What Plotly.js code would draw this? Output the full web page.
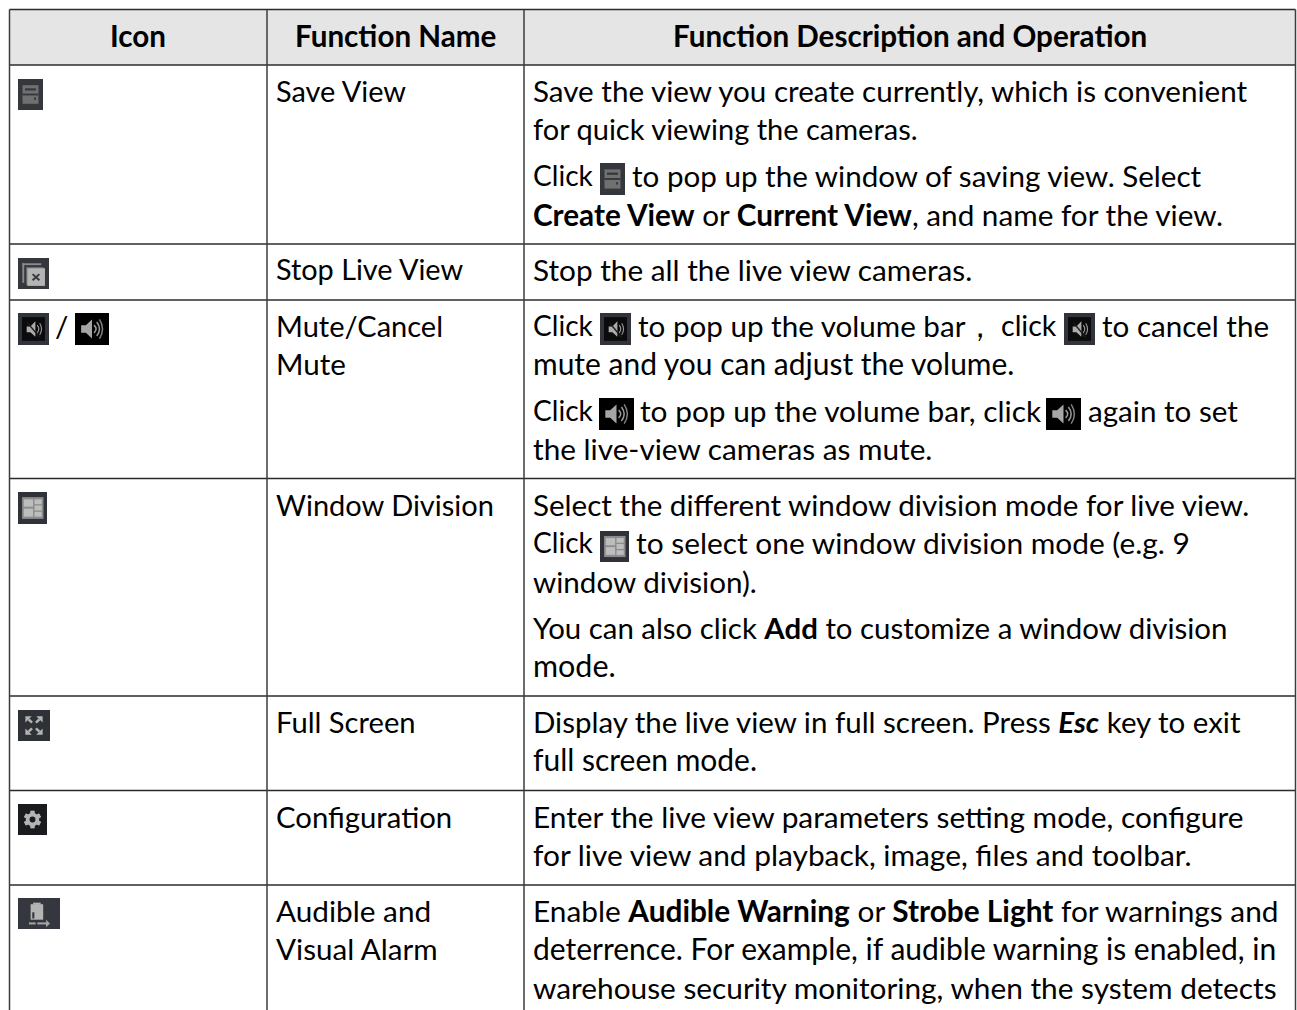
<!DOCTYPE html>
<html>
<head>
<meta charset="utf-8">
<script src="https://cdn.plot.ly/plotly-3.0.1.min.js"></script>
<style>html,body{margin:0;padding:0;background:#fff;overflow:hidden}</style>
</head>
<body>
<div id="chart" style="width:1297px;height:1010px"></div>
<script>
// ---- table content ----
const headers = ["Icon", "Function Name", "Function Description and Operation"];
const functionNames = ["Save View", "Stop Live View", "Mute/Cancel", "Mute", "Window Division", "Full Screen", "Configuration", "Audible and", "Visual Alarm"];
const descriptionLines = [
  "Save the view you create currently, which is convenient",
  "for quick viewing the cameras.",
  "Click",
  "to pop up the window of saving view. Select",
  "<b>Create View</b> or <b>Current View</b>, and name for the view.",
  "Stop the all the live view cameras.",
  "Click",
  "to pop up the volume bar，",
  "click",
  "to cancel the",
  "mute and you can adjust the volume.",
  "Click",
  "to pop up the volume bar, click",
  "again to set",
  "the live-view cameras as mute.",
  "Select the different window division mode for live view.",
  "Click",
  "to select one window division mode (e.g. 9",
  "window division).",
  "You can also click <b>Add</b> to customize a window division",
  "mode.",
  "Display the live view in full screen. Press <b><i>Esc</i></b> key to exit",
  "full screen mode.",
  "Enter the live view parameters setting mode, configure",
  "for live view and playback, image, files and toolbar.",
  "Enable <b>Audible Warning</b> or <b>Strobe Light</b> for warnings and",
  "deterrence. For example, if audible warning is enabled, in",
  "warehouse security monitoring, when the system detects"
];

// ---- layout of the table (pixels) ----
const W = 1297, H = 1010;
const columnEdges = [9.5, 267, 524, 1295.5];
const rowEdges = [9.5, 65, 244, 300, 478.5, 696, 790.5, 885, 1010];
const headerCentres = [138, 395, 910];
const headerY = 35;
const nameX = 276;
const nameY = [90, 269, 325, 363, 504, 721, 816, 910, 948];
const nameFit = [.977, .974, .98, 1, .98, .985, .99, 1.005, 1];
const descX = [533, 533, 533, 632, 533, 533, 533, 638, 1001, 1102, 533, 533, 640, 1088, 533, 533, 533, 636, 533, 533, 533, 533, 533, 533, 533, 533, 533, 533];
const descY = [90, 128, 175, 175, 214, 269, 325, 325, 325, 325, 363, 410, 410, 410, 448, 504, 542, 542, 581, 627, 665, 721, 759, 816, 854, 910, 948, 987];
const descFit = [1, .98, .95, 1, 1.004, 1.005, .95, 1, .965, 1, 1.013, .95, 1.008, 1, 1.005, 1, .95, 1.009, 1, .994, 1.03, .996, 1.013, 1.008, 1.009, 1.007, 1.014, 1.007];

// ---- icons: kind, left, top, right, bottom ----
const iconKinds = ["save", "stop", "mute", "sound", "grid", "full", "gear", "alarm", "save", "mute", "mute", "sound", "sound", "grid"];
const iconX0 = [18, 18, 18, 75, 18, 18, 18, 18, 600, 600, 1064, 599, 1046, 600];
const iconY0 = [79, 258, 313, 313, 492, 710, 804, 898, 163, 313, 313, 398, 398, 531];
const iconX1 = [43, 49, 49, 109, 47, 50, 47, 60, 625, 631, 1095, 634, 1081, 629];
const iconY1 = [110, 289, 345, 345, 524, 741, 835, 929, 195, 345, 345, 430, 430, 562];
const iconBack = {save:"#34373c", stop:"#34373c", mute:"#31343a", sound:"#000000", grid:"#2f3238", full:"#2e3136", gear:"#191b1f", alarm:"#34373d"};
const iconInk = "#b4b4b4";

const shapes = [];
const rect = (x0, y0, x1, y1, fill, line, lw) => shapes.push({type:"rect", xref:"x", yref:"y", x0, y0, x1, y1,
  fillcolor: fill || "rgba(0,0,0,0)", line:{color: line || "rgba(0,0,0,0)", width: lw || 0}, layer:"above"});
const seg = (x0, y0, x1, y1, color, w) => shapes.push({type:"line", xref:"x", yref:"y", x0, y0, x1, y1, line:{color, width:w}, layer:"above"});
const poly = (pts, fill) => shapes.push({type:"path", xref:"x", yref:"y",
  path: "M" + pts.map(p => p[0] + "," + p[1]).join("L") + "Z", fillcolor: fill, line:{width:0}, layer:"above"});
const curve = (x0, y0, cx, cy, x1, y1, color, w) => shapes.push({type:"path", xref:"x", yref:"y",
  path: `M${x0},${y0}Q${cx},${cy} ${x1},${y1}`, fillcolor:"rgba(0,0,0,0)", line:{color, width:w}, layer:"above"});

// header fill and grid
rect(columnEdges[0], rowEdges[0], columnEdges[3], rowEdges[1], "#e5e5e5");
rowEdges.slice(0, -1).forEach(y => seg(columnEdges[0], y, columnEdges[3], y, "#2b2b2b", 1.5));
columnEdges.forEach(x => seg(x, rowEdges[0], x, H, "#3c3c3c", 1.5));

// icon glyphs, defined on a unit square of each icon
function drawIcon(kind, x0, y0, x1, y1) {
  rect(x0, y0, x1, y1, iconBack[kind]);
  const X = u => x0 + u * (x1 - x0), Y = v => y0 + v * (y1 - y0);
  const r = (a, b, c, d, f) => rect(X(a), Y(b), X(c), Y(d), f);
  const p = (pts, f) => poly(pts.map(q => [X(q[0]), Y(q[1])]), f);
  const arc = (u, a, b, bulge, c, w) => curve(X(u), Y(a), X(u + bulge), Y((a + b) / 2), X(u), Y(b), c, w);
  if (kind === "save") {
    r(.18,.2,.82,.8,"#707070"); r(.28,.3,.72,.37,"#34373c"); r(.18,.47,.82,.53,"#34373c"); r(.64,.6,.72,.67,"#34373c");
  } else if (kind === "stop") {
    r(.14,.17,.75,.23,"#8a8a8a"); r(.14,.17,.2,.8,"#8a8a8a"); r(.26,.29,.32,.86,"#6a6a6a"); r(.26,.29,.82,.35,"#6a6a6a");
    r(.3,.33,.87,.9,"#b4b4b4");
    seg(X(.47), Y(.52), X(.69), Y(.72), "#3a3a3a", 2); seg(X(.69), Y(.52), X(.47), Y(.72), "#3a3a3a", 2);
  } else if (kind === "mute") {
    r(.13,.13,.87,.87,"#0b0b0d");
    p([[.28,.42],[.4,.42],[.56,.26],[.56,.74],[.4,.6],[.28,.6]], "#ababab");
    seg(X(.3), Y(.3), X(.7), Y(.76), "#1c1c1c", 1.4);
    arc(.62, .38, .62, .1, "#9a9a9a", 1.1); arc(.7, .32, .68, .12, "#9a9a9a", 1.1);
  } else if (kind === "sound") {
    p([[.18,.38],[.32,.38],[.5,.2],[.5,.8],[.32,.62],[.18,.62]], "#a6a6a6");
    arc(.56, .38, .62, .12, "#9a9a9a", 1.5); arc(.64, .28, .72, .16, "#9a9a9a", 1.5); arc(.72, .2, .8, .18, "#808080", 1.5);
  } else if (kind === "grid") {
    rect(X(.14), Y(.16), X(.88), Y(.84), "#8c8c8c");
    r(.2,.23,.52,.46,"#bdbdbd"); r(.2,.52,.52,.77,"#bdbdbd");
    r(.57,.23,.82,.38,"#bdbdbd"); r(.57,.42,.82,.58,"#bdbdbd"); r(.57,.62,.82,.77,"#bdbdbd");
  } else if (kind === "full") {
    [[.23,.2,1,1],[.77,.2,-1,1],[.23,.8,1,-1],[.77,.8,-1,-1]].forEach(c => {
      const dx = .2 * c[2], dy = .2 * c[3];
      p([[c[0],c[1]],[c[0]+dx,c[1]],[c[0],c[1]+dy]], iconInk);
      seg(X(c[0]+dx*.5), Y(c[1]+dy*.5), X(c[0]+dx*1.05), Y(c[1]+dy*1.05), iconInk, 2.5);
    });
  } else if (kind === "gear") {
    const cx = X(.5), cy = Y(.5), R = (x1 - x0) * .3;
    for (let k = 0; k < 6; k++) {
      const a = k * Math.PI / 3 + Math.PI / 6;
      seg(cx - Math.cos(a)*R, cy - Math.sin(a)*R, cx + Math.cos(a)*R, cy + Math.sin(a)*R, iconInk, 4);
    }
    shapes.push({type:"circle", xref:"x", yref:"y", x0:cx-R*.78, x1:cx+R*.78, y0:cy-R*.78, y1:cy+R*.78, fillcolor:iconInk, line:{width:0}, layer:"above"});
    shapes.push({type:"circle", xref:"x", yref:"y", x0:cx-R*.34, x1:cx+R*.34, y0:cy-R*.34, y1:cy+R*.34, fillcolor:iconBack.gear, line:{width:0}, layer:"above"});
  } else if (kind === "alarm") {
    r(.3,.2,.6,.7,"#b4b4b4"); r(.36,.15,.54,.22,"#b4b4b4"); r(.34,.46,.39,.66,"#34373d");
    seg(X(.26), Y(.82), X(.42), Y(.82), "#a6a6a6", 2); seg(X(.46), Y(.82), X(.72), Y(.82), "#a6a6a6", 2);
    p([[.67,.7],[.76,.82],[.67,.94]], "#a6a6a6");
  }
}
iconKinds.forEach((k, i) => drawIcon(k, iconX0[i], iconY0[i], iconX1[i], iconY1[i]));

// text
const FONT = "Lato, sans-serif";
const SIZE = 29.6;
const note = (text, x, y, anchor, bold, fit) => ({text: bold ? "<b>" + text + "</b>" : text, x, y, xref:"x", yref:"y",
  xanchor: anchor, yanchor:"middle", showarrow:false, borderpad:0, borderwidth:0,
  font:{family:FONT, size:SIZE * (fit || 1), color:"#000000"}});
const annotations = [];
headers.forEach((t, i) => annotations.push(note(t, headerCentres[i], headerY, "center", true)));
functionNames.forEach((t, i) => annotations.push(note(t, nameX, nameY[i], "left", false, nameFit[i])));
descriptionLines.forEach((t, i) => annotations.push(note(t, descX[i], descY[i], "left", false, descFit[i])));
annotations.push(note("/", 61, 325, "center"));

Plotly.newPlot("chart", [{x:[0, W], y:[0, H], type:"scatter", mode:"markers", marker:{opacity:0}, hoverinfo:"skip", showlegend:false}], {
  width:W, height:H, margin:{l:0, r:0, t:0, b:0}, paper_bgcolor:"#fff", plot_bgcolor:"#fff", showlegend:false,
  xaxis:{range:[0, W], visible:false, fixedrange:true},
  yaxis:{range:[H, 0], visible:false, fixedrange:true},
  shapes, annotations
}, {displayModeBar:false, staticPlot:true});
</script>
</body>
</html>
